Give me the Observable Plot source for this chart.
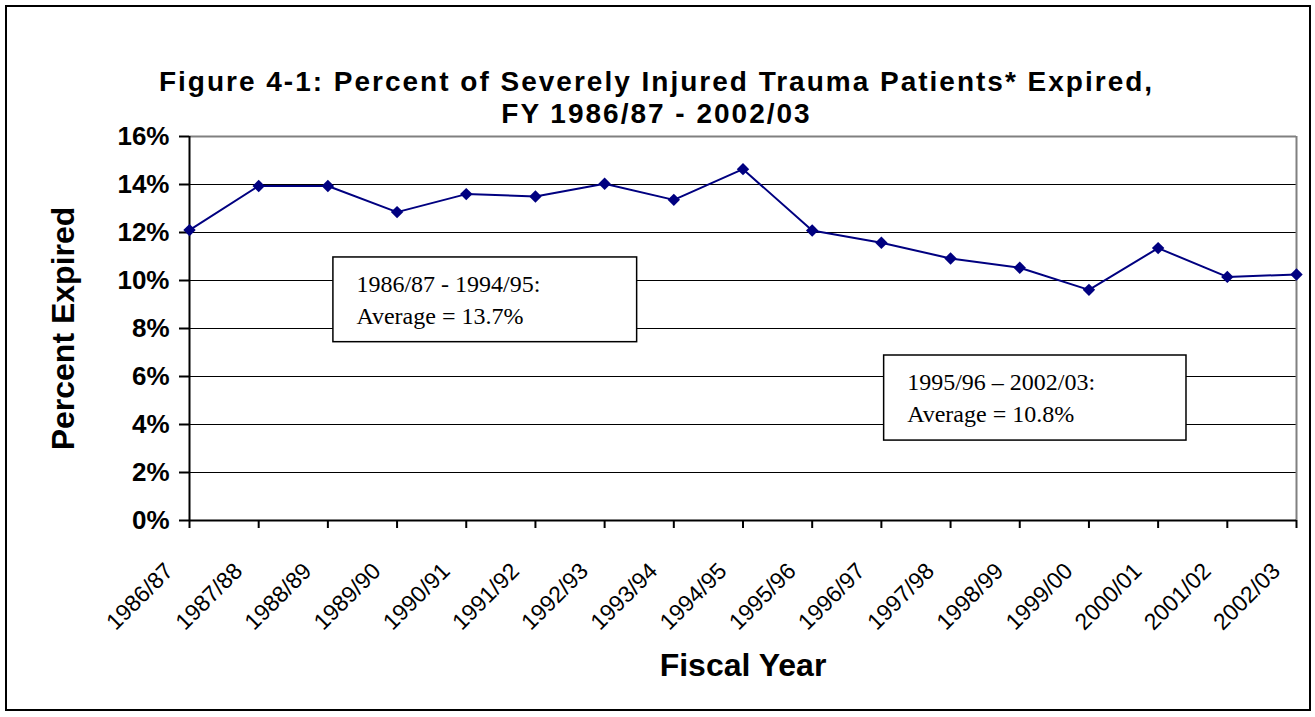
<!DOCTYPE html>
<html><head><meta charset="utf-8">
<script src="https://cdn.jsdelivr.net/npm/d3@7"></script>
<script src="https://cdn.jsdelivr.net/npm/@observablehq/plot@0.6"></script>
<style>
body{margin:0;background:#fff;}
#frame{position:absolute;left:5px;top:5px;width:1306px;height:706px;border:2px solid #000;box-sizing:border-box;}
.title{position:absolute;left:0;width:1313px;text-align:center;font:bold 28px/32px "Liberation Sans",Arial,sans-serif;letter-spacing:2px;color:#000;white-space:nowrap;}
#t1{top:66px;}
#t2{top:98px;}
#chart{position:absolute;left:0;top:120px;}
</style></head><body>
<div id="frame"></div>
<div class="title" id="t1">Figure 4-1: Percent of Severely Injured Trauma Patients* Expired,</div>
<div class="title" id="t2">FY 1986/87 - 2002/03</div>
<div id="chart"></div>
<script>
const fiscalYears = ["1986/87","1987/88","1988/89","1989/90","1990/91","1991/92","1992/93","1993/94","1994/95","1995/96","1996/97","1997/98","1998/99","1999/00","2000/01","2001/02","2002/03"];
const pctExpired = [12.1, 13.94, 13.94, 12.85, 13.6, 13.5, 14.03, 13.36, 14.64, 12.08, 11.57, 10.92, 10.53, 9.61, 11.35, 10.15, 10.25];
const yTicks = [0, 2, 4, 6, 8, 10, 12, 14, 16];
const gridValues = [2, 4, 6, 8, 10, 12, 14];
const noteText = ["1986/87 - 1994/95:\nAverage = 13.7%", "1995/96 \u2013 2002/03:\nAverage = 10.8%"];
const noteX1 = [2.08, 10.04];
const noteX2 = [6.47, 14.41];
const noteY1 = [7.43, 3.33];
const noteY2 = [10.96, 6.875];

const data = fiscalYears.map((label, i) => ({i, label, v: pctExpired[i]}));
const notes = noteText.map((t, k) => ({t, x1: noteX1[k], x2: noteX2[k], y1: noteY1[k], y2: noteY2[k]}));
const idx = d3.range(fiscalYears.length);

const chart = Plot.plot({
  width: 1315,
  height: 589,
  marginLeft: 189,
  marginRight: 19,
  marginTop: 16,
  marginBottom: 189,
  style: {fontFamily: "'Liberation Sans', Arial, sans-serif", color: "#000", background: "transparent", overflow: "visible"},
  x: {type: "linear", domain: [0, fiscalYears.length - 1]},
  y: {domain: [0, 16]},
  marks: [
    Plot.ruleY(gridValues, {stroke: "#000", strokeWidth: 1}),
    Plot.ruleY([16], {stroke: "#808080", strokeWidth: 2}),
    Plot.ruleX([fiscalYears.length - 1], {stroke: "#808080", strokeWidth: 2}),
    Plot.rect(notes, {x1: "x1", x2: "x2", y1: "y1", y2: "y2", fill: "#fff", stroke: "#000", strokeWidth: 1.5}),
    Plot.text(notes, {x: "x1", y: "y2", text: "t", textAnchor: "start", lineAnchor: "top", dx: 23, dy: 11, fontFamily: "'Liberation Serif', 'Times New Roman', serif", fontSize: 24, lineHeight: 1.36, fill: "#000"}),
    Plot.ruleX([0], {stroke: "#000", strokeWidth: 2}),
    Plot.ruleY([0], {stroke: "#000", strokeWidth: 2}),
    Plot.axisY({ticks: yTicks, tickFormat: d => d + "%", tickSize: 10, tickPadding: 10, fontSize: 26, fontWeight: "bold", label: null, strokeWidth: 2}),
    Plot.axisX({ticks: idx, tickSize: 8, tickFormat: () => "", label: null, strokeWidth: 2}),
    Plot.line(data, {x: "i", y: "v", stroke: "#000080", strokeWidth: 2}),
    Plot.dot(data, {x: "i", y: "v", symbol: "diamond2", r: 5.6, fill: "#000080", stroke: "none"}),
    Plot.text(data, {x: "i", text: "label", frameAnchor: "bottom", rotate: -45, textAnchor: "end", lineAnchor: "bottom", dx: -15, dy: 52, fontSize: 23, fill: "#000"}),
    Plot.text(["Percent Expired"], {text: d => d, frameAnchor: "left", textAnchor: "middle", rotate: -90, dx: -126, fontSize: 32, fontWeight: "bold", fill: "#000"}),
    Plot.text(["Fiscal Year"], {text: d => d, frameAnchor: "bottom", textAnchor: "middle", dy: 155, fontSize: 32, fontWeight: "bold", fill: "#000"})
  ]
});
document.getElementById("chart").appendChild(chart);
</script>
</body></html>
